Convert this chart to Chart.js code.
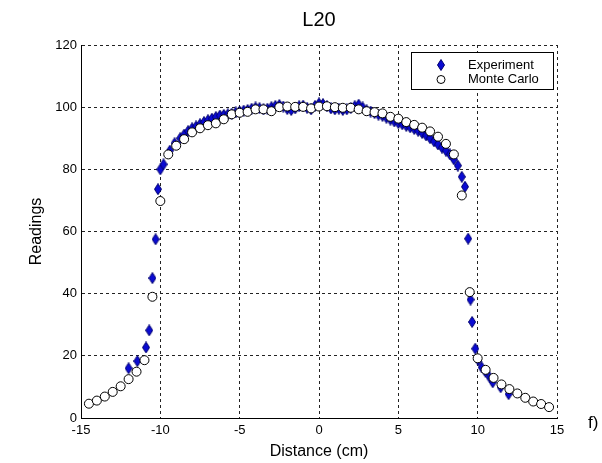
<!DOCTYPE html>
<html>
<head>
<meta charset="utf-8">
<script src="https://cdn.jsdelivr.net/npm/chart.js@4.4.0/dist/chart.umd.min.js"></script>
<style>
  html, body { margin: 0; padding: 0; background: #fff; }
</style>
</head>
<body>
<canvas id="chart-area" width="602" height="463"></canvas>
<script>
// Experiment (blue diamonds)
var expX = [-12.0, -11.45, -10.9, -10.7, -10.5, -10.3, -10.15, -10.0, -9.8, -9.4, -9.1,
  -8.75, -8.5, -8.25, -8.0, -7.75, -7.5, -7.25, -7.0, -6.75, -6.5, -6.25, -6.0,
  -5.75, -5.5, -5.25, -5.0, -4.75, -4.5, -4.25, -4.0, -3.75, -3.5, -3.25, -3.0,
  -2.75, -2.5, -2.25, -2.0, -1.75, -1.5, -1.25, -1.0, -0.75, -0.5, -0.25, 0.0,
  0.25, 0.5, 0.75, 1.0, 1.25, 1.5, 1.75, 2.0, 2.25, 2.5, 2.75, 3.0,
  3.25, 3.5, 3.75, 4.0, 4.25, 4.5, 4.75, 5.0, 5.25, 5.5, 5.75, 6.0,
  6.25, 6.5, 6.75, 7.0, 7.25, 7.5, 7.75, 8.0, 8.25, 8.5, 8.75,
  9.0, 9.2, 9.4, 9.55, 9.65, 9.85, 10.05, 10.25, 10.5, 10.75, 10.95, 11.45, 11.95];
var expY = [16.0, 18.3, 22.7, 28.2, 45.0, 57.5, 73.6, 80.0, 81.6, 86.0, 88.4,
  90.0, 91.2, 92.3, 93.2, 93.8, 94.5, 95.2, 95.8, 96.3, 96.8, 97.3, 97.5,
  97.7, 97.9, 98.3, 98.6, 98.9, 99.1, 99.5, 99.9, 99.7, 99.3, 99.5, 100.0,
  100.4, 100.7, 100.2, 99.4, 99.1, 99.6, 100.3, 100.5, 99.8, 99.3, 100.4, 101.2,
  101.0, 100.3, 99.6, 99.3, 99.5, 99.1, 99.3, 99.7, 100.3, 100.8, 99.9, 99.0,
  98.6, 98.1, 97.6, 97.2, 96.6, 96.0, 95.4, 94.9, 94.5, 94.0, 93.5, 93.0,
  92.4, 91.7, 90.9, 90.0, 89.0, 88.0, 87.0, 86.0, 84.8, 83.2, 81.2,
  77.6, 74.4, 57.7, 38.1, 30.9, 22.3, 18.5, 16.3, 14.8, 13.1, 11.5, 9.9, 7.7];

// Monte Carlo (open circles)
var mcX = [-14.5, -14, -13.5, -13, -12.5, -12, -11.5, -11, -10.5, -10,
  -9.5, -9, -8.5, -8, -7.5, -7, -6.5, -6, -5.5, -5, -4.5, -4, -3.5, -3,
  -2.5, -2, -1.5, -1, -0.5, 0, 0.5, 1, 1.5, 2, 2.5, 3, 3.5, 4, 4.5, 5,
  5.5, 6, 6.5, 7, 7.5, 8, 8.5, 9, 9.5, 10, 10.5, 11, 11.5, 12, 12.5, 13,
  13.5, 14, 14.5];
var mcY = [4.6, 5.6, 6.9, 8.4, 10.2, 12.5, 14.9, 18.6, 39.0, 69.8,
  84.8, 87.6, 89.7, 91.9, 93.2, 94.2, 94.8, 96.1, 97.7, 98.2, 98.5, 99.3, 99.3, 98.7,
  100.0, 100.2, 100.1, 100.1, 99.6, 100.2, 100.3, 100.0, 99.8, 99.8, 99.3, 98.7, 98.4, 98.0, 96.9, 96.3,
  95.2, 94.3, 93.4, 92.2, 90.5, 88.2, 84.8, 71.6, 40.5, 19.2, 15.5, 12.9, 10.8, 9.3, 7.9, 6.5,
  5.3, 4.5, 3.5];

var xTicks = [-15, -10, -5, 0, 5, 10, 15];
var yTicks = [0, 20, 40, 60, 80, 100, 120];

var FONT = 'Arial, "Liberation Sans", sans-serif';
var blue = '#0a0ad2';

function makeDiamond(w, h) {
  var c = document.createElement('canvas');
  c.width = w; c.height = h;
  var g = c.getContext('2d');
  g.beginPath();
  g.moveTo(w / 2, 0.5);
  g.lineTo(w - 0.5, h / 2);
  g.lineTo(w / 2, h - 0.5);
  g.lineTo(0.5, h / 2);
  g.closePath();
  g.fillStyle = blue;
  g.fill();
  g.strokeStyle = '#00006e';
  g.lineWidth = 1;
  g.stroke();
  return c;
}
var diamond = makeDiamond(8, 12);

function pts(xs, ys) {
  return xs.map(function (x, i) { return { x: x, y: ys[i] }; });
}

// title, legend box and panel letter
var decor = {
  id: 'decor',
  afterDraw: function (chart) {
    var ctx = chart.ctx, a = chart.chartArea;
    ctx.save();
    ctx.fillStyle = '#000';
    ctx.textBaseline = 'middle';
    ctx.textAlign = 'center';
    ctx.font = '20px ' + FONT;
    ctx.fillText('L20', (a.left + a.right) / 2, 20);

    ctx.textAlign = 'left';
    ctx.font = '17px ' + FONT;
    ctx.fillText('f)', 588, 423);

    // legend
    ctx.fillStyle = '#fff';
    ctx.fillRect(411.5, 52.5, 142, 37);
    ctx.strokeStyle = '#000';
    ctx.lineWidth = 1;
    ctx.strokeRect(411.5, 52.5, 142, 37);
    ctx.drawImage(diamond, 441 - 4, 65 - 6);
    ctx.beginPath();
    ctx.arc(441, 79.5, 4, 0, Math.PI * 2);
    ctx.fillStyle = '#fff';
    ctx.fill();
    ctx.stroke();
    ctx.fillStyle = '#000';
    ctx.font = '13px ' + FONT;
    ctx.fillText('Experiment', 468, 65);
    ctx.fillText('Monte Carlo', 468, 79.5);
    ctx.restore();
  }
};

var config = {
  type: 'scatter',
  data: {
    datasets: [{
      label: 'Experiment',
      data: pts(expX, expY),
      pointStyle: diamond,
      pointRadius: 6,
      order: 2
    }, {
      label: 'Monte Carlo',
      data: pts(mcX, mcY),
      pointStyle: 'circle',
      pointRadius: 4.5,
      backgroundColor: '#fff',
      borderColor: '#000',
      borderWidth: 1,
      order: 1
    }]
  },
  options: {
    responsive: false,
    animation: false,
    layout: { padding: { top: 45, right: 45, left: 0, bottom: 0 } },
    plugins: {
      legend: { display: false },
      title: { display: false },
      tooltip: { enabled: false }
    },
    scales: {
      x: {
        type: 'linear',
        min: -15,
        max: 15,
        afterFit: function (s) { s.height = 45; },
        afterBuildTicks: function (s) { s.ticks = xTicks.map(function (v) { return { value: v }; }); },
        ticks: { color: '#000', font: { family: FONT, size: 13 }, padding: 5, maxRotation: 0 },
        grid: { color: '#222', lineWidth: 1, drawTicks: false },
        border: { display: true, color: '#000', width: 1, dash: [3, 3] },
        title: { display: true, text: 'Distance (cm)', color: '#000', font: { family: FONT, size: 16 }, padding: { top: 0, bottom: 2 } }
      },
      y: {
        min: 0,
        max: 120,
        afterFit: function (s) { s.width = 81; },
        afterBuildTicks: function (s) { s.ticks = yTicks.map(function (v) { return { value: v }; }); },
        ticks: { color: '#000', font: { family: FONT, size: 13 }, padding: 4 },
        grid: { color: '#222', lineWidth: 1, drawTicks: false },
        border: { display: true, color: '#000', width: 1, dash: [3, 3] },
        title: { display: true, text: 'Readings', color: '#000', font: { family: FONT, size: 16 }, padding: { top: 27, bottom: 0 } }
      }
    }
  },
  plugins: [decor]
};

window.onload = function () {
  var ctx = document.getElementById('chart-area').getContext('2d');
  window.myScatter = new Chart(ctx, config);
};
</script>
</body>
</html>
